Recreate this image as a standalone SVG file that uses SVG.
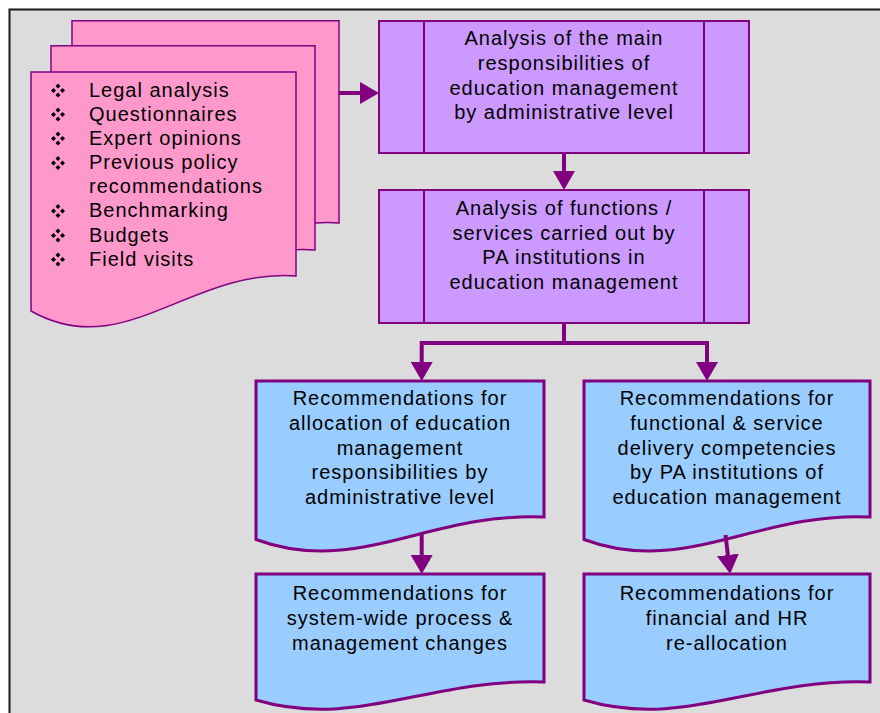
<svg xmlns="http://www.w3.org/2000/svg" width="880" height="713" viewBox="0 0 880 713">
  <style>
    .txt { font-family: "Liberation Sans", Arial, sans-serif; font-size: 20px; letter-spacing: 1px; fill: #000; }
    .mid { text-anchor: middle; }
    .pink { fill: #FF99CC; stroke: #800080; stroke-width: 1.5; }
    .violet { fill: #CC99FF; stroke: #800080; stroke-width: 2; }
    .blue { fill: #99CCFF; stroke: #800080; stroke-width: 3; stroke-linejoin: miter; }
    .conn { fill: none; stroke: #800080; stroke-width: 4; }
  </style>
  <defs>
    <marker id="head" viewBox="0 0 19 22" refX="1" refY="11" markerWidth="19" markerHeight="22" markerUnits="userSpaceOnUse" orient="auto">
      <path d="M0,0 L19,11 L0,22 Z" fill="#800080"/>
    </marker>
    <!-- four-diamond list bullet -->
    <symbol id="bullet" overflow="visible">
      <path fill="#000" d="M0,-7 L2.5,-4.5 L0,-2 L-2.5,-4.5 Z M0,2 L2.5,4.5 L0,7 L-2.5,4.5 Z M-7,0 L-4.5,-2.5 L-2,0 L-4.5,2.5 Z M2,0 L4.5,-2.5 L7,0 L4.5,2.5 Z"/>
    </symbol>
  </defs>

  <rect x="0" y="0" width="880" height="713" fill="#FFFFFF"/>
  <!-- grey panel -->
  <rect x="9.5" y="9.5" width="900" height="800" fill="#DCDCDC" stroke="#1A1A1A" stroke-width="2"/>

  <!-- stacked source documents -->
  <g id="sources">
    <path class="pink" d="M72,20.7 H339 V223 C232.2,215.3 165.5,310.5 72,258 Z"/>
    <path class="pink" d="M51,45.7 H315 V250 C209.4,242.3 143.4,337.5 51,285 Z"/>
    <path class="pink" d="M31,72 H296 V276 C190,268.3 123.8,363.5 31,311 Z"/>
    <use href="#bullet" x="58" y="90.5"/>
    <text class="txt" x="89" y="96.5">Legal analysis</text>
    <use href="#bullet" x="58" y="114.5"/>
    <text class="txt" x="89" y="120.5">Questionnaires</text>
    <use href="#bullet" x="58" y="138.5"/>
    <text class="txt" x="89" y="144.5">Expert opinions</text>
    <use href="#bullet" x="58" y="163"/>
    <text class="txt" x="89" y="169">Previous policy</text>
    <text class="txt" x="89" y="193">recommendations</text>
    <use href="#bullet" x="58" y="211"/>
    <text class="txt" x="89" y="217">Benchmarking</text>
    <use href="#bullet" x="58" y="235.5"/>
    <text class="txt" x="89" y="241.5">Budgets</text>
    <use href="#bullet" x="58" y="259.5"/>
    <text class="txt" x="89" y="265.5">Field visits</text>
  </g>

  <!-- predefined-process boxes -->
  <g id="analysis-responsibilities">
    <rect class="violet" x="379" y="21" width="370" height="132"/>
    <line class="violet" x1="424" y1="21" x2="424" y2="153"/>
    <line class="violet" x1="704" y1="21" x2="704" y2="153"/>
    <text class="txt mid" x="564" y="45">Analysis of the main</text>
    <text class="txt mid" x="564" y="70">responsibilities of</text>
    <text class="txt mid" x="564" y="94.5">education management</text>
    <text class="txt mid" x="564" y="119">by administrative level</text>
  </g>

  <g id="analysis-functions">
    <rect class="violet" x="379" y="190" width="370" height="133"/>
    <line class="violet" x1="424" y1="190" x2="424" y2="323"/>
    <line class="violet" x1="704" y1="190" x2="704" y2="323"/>
    <text class="txt mid" x="564" y="215">Analysis of functions /</text>
    <text class="txt mid" x="564" y="239.5">services carried out by</text>
    <text class="txt mid" x="564" y="264">PA institutions in</text>
    <text class="txt mid" x="564" y="289">education management</text>
  </g>

  <!-- recommendation documents -->
  <g id="rec-allocation">
    <path class="blue" d="M256,381 H544 V517 C428.8,512 356.8,576.6 256,539.5 Z"/>
    <text class="txt mid" x="400" y="405">Recommendations for</text>
    <text class="txt mid" x="400" y="430">allocation of education</text>
    <text class="txt mid" x="400" y="454.5">management</text>
    <text class="txt mid" x="400" y="479">responsibilities by</text>
    <text class="txt mid" x="400" y="504">administrative level</text>
  </g>

  <g id="rec-competencies">
    <path class="blue" d="M584,381 H870 V517 C755.6,512 684.1,576.6 584,539.5 Z"/>
    <text class="txt mid" x="727" y="405">Recommendations for</text>
    <text class="txt mid" x="727" y="430">functional &amp; service</text>
    <text class="txt mid" x="727" y="454.5">delivery competencies</text>
    <text class="txt mid" x="727" y="479">by PA institutions of</text>
    <text class="txt mid" x="727" y="504">education management</text>
  </g>

  <g id="rec-system">
    <path class="blue" d="M256,574 H544 V682 C428.8,678 356.8,729.7 256,700 Z"/>
    <text class="txt mid" x="400" y="600">Recommendations for</text>
    <text class="txt mid" x="400" y="625">system-wide process &amp;</text>
    <text class="txt mid" x="400" y="649.5">management changes</text>
  </g>

  <g id="rec-financial">
    <path class="blue" d="M584,574 H870 V682 C755.6,678 684.1,729.7 584,700 Z"/>
    <text class="txt mid" x="727" y="600">Recommendations for</text>
    <text class="txt mid" x="727" y="625">financial and HR</text>
    <text class="txt mid" x="727" y="649.5">re-allocation</text>
  </g>

  <!-- connectors -->
  <g id="connectors">
    <line class="conn" x1="339" y1="93" x2="361" y2="93" marker-end="url(#head)"/>
    <line class="conn" x1="564" y1="153" x2="564" y2="172" marker-end="url(#head)"/>
    <polyline class="conn" points="564,323 564,343"/>
    <polyline class="conn" points="421.7,363 421.7,343 707,343 707,363"/>
    <line class="conn" x1="421.7" y1="362" x2="421.7" y2="363" marker-end="url(#head)"/>
    <line class="conn" x1="707" y1="362" x2="707" y2="363" marker-end="url(#head)"/>
    <line class="conn" x1="421.7" y1="534" x2="421.7" y2="556" marker-end="url(#head)"/>
    <line class="conn" x1="725.5" y1="535" x2="728" y2="556" marker-end="url(#head)"/>
  </g>
</svg>
